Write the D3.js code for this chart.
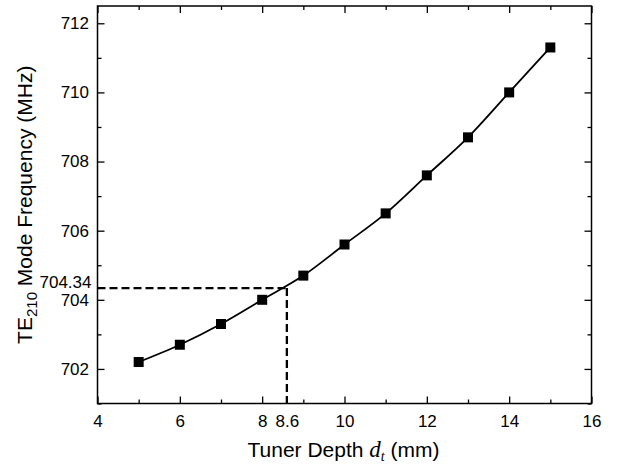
<!DOCTYPE html>
<html>
<head>
<meta charset="utf-8">
<script src="https://cdn.jsdelivr.net/npm/d3@7"></script>
<style>
  html, body { margin: 0; padding: 0; background: #fff; }
  svg { display: block; }
  text { font-family: Arial, "Liberation Sans", sans-serif; fill: #000; }
</style>
</head>
<body>
<svg id="chart" width="621" height="466"></svg>
<script>
// Tuner depth (mm) and TE210 mode frequency (MHz)
const depth = [5, 6, 7, 8, 9, 10, 11, 12, 13, 14, 15];
const frequency = [702.2, 702.7, 703.3, 704.0, 704.7, 705.6, 706.5, 707.6, 708.7, 710.0, 711.3];

// Axis ticks
const xMajorTicks = [4, 6, 8, 10, 12, 14, 16];
const xMinorTicks = [5, 7, 9, 11, 13, 15];
const yMajorTicks = [702, 704, 706, 708, 710, 712];
const yMinorTicks = [701, 703, 705, 707, 709, 711];

// Operating point marked by the dashed guides
const targetDepth = 8.6;
const targetFrequency = 704.34;

const svg = d3.select("#chart");
const plotLeft = 97.5, plotRight = 591.5, plotTop = 6, plotBottom = 403.5;

const x = d3.scaleLinear().domain([4, 16]).range([plotLeft, plotRight]);
const y = d3.scaleLinear().domain([701, 712.5]).range([plotBottom, plotTop]);

const majorLen = 7, minorLen = 4;
const tickFont = 17;

function styleAxis(g) {
  g.select(".domain").remove();
  g.selectAll(".tick line").attr("stroke", "#000").attr("stroke-width", 1.3);
  g.selectAll(".tick text").attr("font-size", tickFont).attr("fill", "#000");
}

// Bottom axis: major with labels, minor without
svg.append("g").attr("transform", `translate(0,${plotBottom})`)
  .call(d3.axisBottom(x).tickValues(xMajorTicks).tickSize(-majorLen).tickPadding(11).tickFormat(d3.format("d")))
  .call(styleAxis);
svg.append("g").attr("transform", `translate(0,${plotBottom})`)
  .call(d3.axisBottom(x).tickValues(xMinorTicks).tickSize(-minorLen).tickFormat(""))
  .call(styleAxis);
// Extra label at the target depth
svg.append("g").attr("transform", `translate(0,${plotBottom})`)
  .call(d3.axisBottom(x).tickValues([targetDepth]).tickSize(0).tickPadding(11).tickFormat(d3.format(".1f")))
  .call(styleAxis);

// Top axis: ticks only
svg.append("g").attr("transform", `translate(0,${plotTop})`)
  .call(d3.axisTop(x).tickValues(xMajorTicks).tickSize(-majorLen).tickFormat(""))
  .call(styleAxis);
svg.append("g").attr("transform", `translate(0,${plotTop})`)
  .call(d3.axisTop(x).tickValues(xMinorTicks).tickSize(-minorLen).tickFormat(""))
  .call(styleAxis);

// Left axis
svg.append("g").attr("transform", `translate(${plotLeft},0)`)
  .call(d3.axisLeft(y).tickValues(yMajorTicks).tickSize(-majorLen).tickPadding(8.5).tickFormat(d3.format("d")))
  .call(styleAxis);
svg.append("g").attr("transform", `translate(${plotLeft},0)`)
  .call(d3.axisLeft(y).tickValues(yMinorTicks).tickSize(-minorLen).tickFormat(""))
  .call(styleAxis);
// Extra label at the target frequency, sitting on the dashed guide
svg.append("g").attr("transform", `translate(${plotLeft},0)`)
  .call(d3.axisLeft(y).tickValues([targetFrequency]).tickSize(0).tickPadding(6).tickFormat(d3.format(".2f")))
  .call(styleAxis)
  .selectAll(".tick text").attr("dy", "-0.05em");

// Right axis: ticks only
svg.append("g").attr("transform", `translate(${plotRight},0)`)
  .call(d3.axisRight(y).tickValues(yMajorTicks).tickSize(-majorLen).tickFormat(""))
  .call(styleAxis);
svg.append("g").attr("transform", `translate(${plotRight},0)`)
  .call(d3.axisRight(y).tickValues(yMinorTicks).tickSize(-minorLen).tickFormat(""))
  .call(styleAxis);

// Plot frame
svg.append("rect")
  .attr("x", plotLeft).attr("y", plotTop)
  .attr("width", plotRight - plotLeft).attr("height", plotBottom - plotTop)
  .attr("fill", "none").attr("stroke", "#000").attr("stroke-width", 1.5);

// Dashed guides to the operating point
svg.append("line")
  .attr("x1", x(4)).attr("x2", x(targetDepth))
  .attr("y1", y(targetFrequency)).attr("y2", y(targetFrequency))
  .attr("stroke", "#000").attr("stroke-width", 2.3).attr("stroke-dasharray", "8,4");
svg.append("line")
  .attr("x1", x(targetDepth)).attr("x2", x(targetDepth))
  .attr("y1", y(targetFrequency)).attr("y2", y(701))
  .attr("stroke", "#000").attr("stroke-width", 2.3).attr("stroke-dasharray", "8,4");

// Frequency curve
const pts = depth.map((d, i) => [d, frequency[i]]);
svg.append("path")
  .datum(pts)
  .attr("fill", "none").attr("stroke", "#000").attr("stroke-width", 1.8)
  .attr("d", d3.line().x(d => x(d[0])).y(d => y(d[1])).curve(d3.curveMonotoneX));

// Square markers
const m = 10;
svg.append("g").selectAll("rect")
  .data(pts).join("rect")
  .attr("x", d => x(d[0]) - m / 2).attr("y", d => y(d[1]) - m / 2)
  .attr("width", m).attr("height", m).attr("fill", "#000");

// Axis titles
const serif = "'Liberation Serif', 'Times New Roman', serif";
const xt = svg.append("text")
  .attr("x", (plotLeft + plotRight) / 2 - 1).attr("y", 457)
  .attr("text-anchor", "middle").attr("font-size", 21);
xt.append("tspan").text("Tuner Depth ");
xt.append("tspan").text("d").attr("font-style", "italic").attr("font-family", serif).attr("font-size", 23);
xt.append("tspan").text("t").attr("font-style", "italic").attr("font-family", serif)
  .attr("font-size", 14).attr("dy", 4);
xt.append("tspan").text(" (mm)").attr("dy", -4);

const yt = svg.append("text")
  .attr("transform", `translate(32,${(plotTop + plotBottom) / 2}) rotate(-90)`)
  .attr("text-anchor", "middle").attr("font-size", 21);
yt.append("tspan").text("TE");
yt.append("tspan").text("210").attr("font-size", 15).attr("dy", 5);
yt.append("tspan").text(" Mode Frequency (MHz)").attr("dy", -5);
</script>
</body>
</html>
